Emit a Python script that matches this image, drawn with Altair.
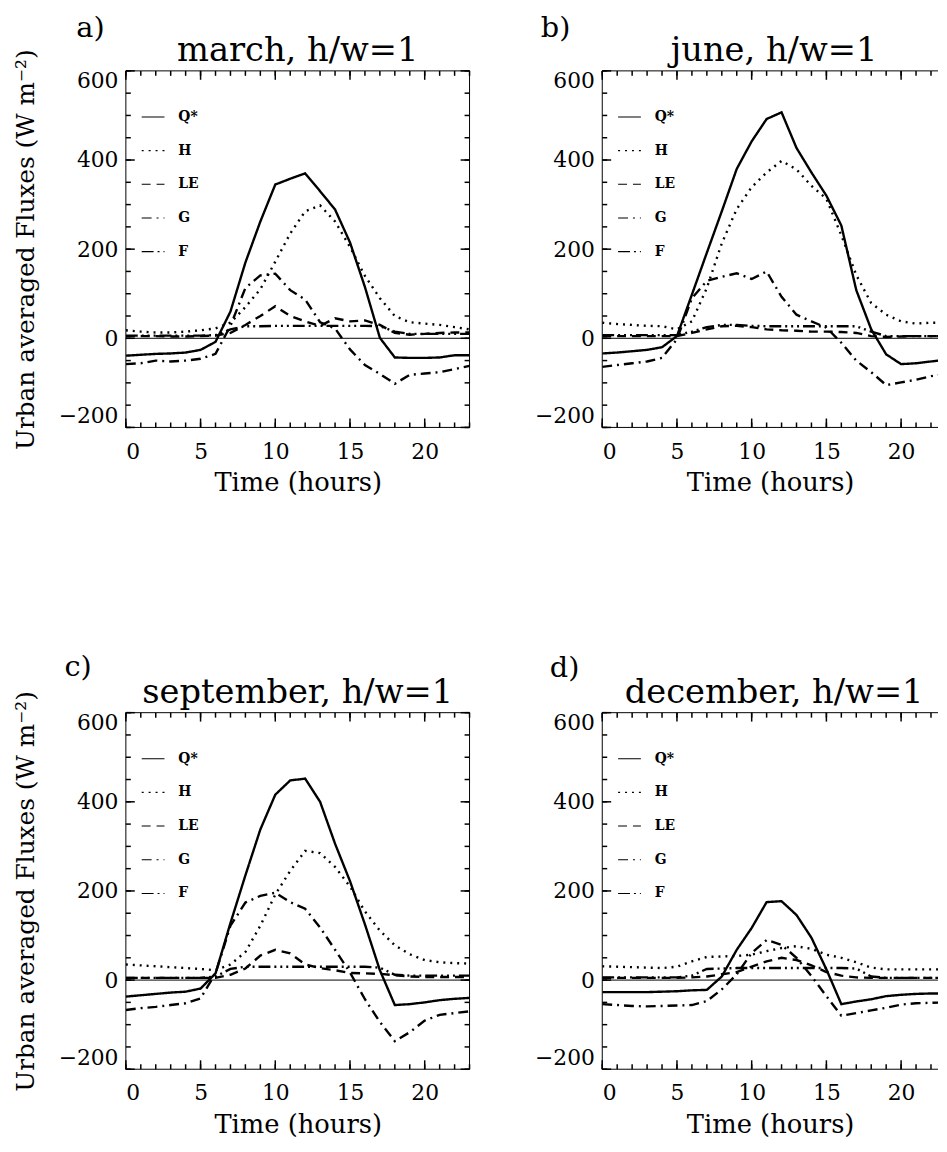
import altair as alt
import pandas as pd

# ---------------- data ----------------
hours = list(range(24))
fluxes = ["Q*", "H", "LE", "G", "F"]
panel_letters = ["a)", "b)", "c)", "d)"]
panel_titles = ["march, h/w=1", "june, h/w=1", "september, h/w=1", "december, h/w=1"]

march_Q = [-39, -37, -35, -34, -32, -26, -8, 60, 170, 262, 345, 358, 370, 330, 289, 215, 115, 1, -43, -44, -44, -43, -38, -38]
march_H = [18, 15, 13, 13, 15, 18, 22, 35, 70, 110, 172, 235, 285, 298, 262, 205, 140, 90, 50, 36, 33, 30, 25, 20]
march_LE = [5, 5, 5, 4, 4, 5, 6, 12, 30, 50, 72, 50, 38, 28, 45, 38, 40, 30, 12, 8, 10, 12, 13, 13]
march_G = [-58, -56, -50, -52, -50, -46, -35, 28, 113, 141, 145, 108, 87, 36, 22, -25, -60, -80, -102, -82, -79, -76, -69, -62]
march_F = [6, 6, 6, 6, 6, 6, 7, 20, 27, 27, 28, 28, 28, 28, 28, 28, 28, 27, 15, 10, 10, 10, 10, 10]

june_Q = [-34, -32, -29, -26, -20, 5, 98, 192, 285, 380, 442, 492, 507, 427, 372, 320, 253, 108, 20, -36, -58, -56, -52, -48]
june_H = [35, 32, 30, 28, 27, 20, 38, 113, 213, 290, 339, 372, 398, 379, 342, 313, 231, 142, 79, 53, 38, 33, 35, 35]
june_LE = [5, 5, 5, 5, 5, 5, 12, 20, 27, 28, 25, 20, 18, 17, 15, 15, 14, 12, 5, 3, 4, 5, 5, 5]
june_G = [-64, -60, -56, -52, -44, -2, 90, 129, 138, 146, 133, 150, 93, 53, 38, 24, -10, -50, -76, -105, -99, -93, -85, -80]
june_F = [7, 7, 7, 7, 7, 7, 15, 25, 30, 30, 28, 27, 27, 27, 27, 27, 27, 27, 15, 5, 5, 5, 5, 5]

sept_Q = [-37, -34, -31, -28, -26, -19, 15, 128, 235, 338, 416, 448, 452, 400, 306, 222, 125, 22, -56, -54, -50, -45, -42, -40]
sept_H = [35, 33, 31, 29, 27, 25, 22, 35, 63, 122, 192, 245, 290, 285, 254, 210, 154, 111, 78, 58, 45, 40, 38, 37]
sept_LE = [5, 5, 5, 5, 5, 5, 5, 12, 26, 55, 68, 60, 35, 27, 22, 16, 15, 14, 11, 8, 7, 7, 7, 7]
sept_G = [-67, -63, -60, -56, -52, -41, 15, 122, 174, 189, 196, 175, 160, 118, 68, 17, -43, -94, -137, -117, -91, -78, -74, -70]
sept_F = [5, 5, 5, 5, 5, 5, 8, 25, 30, 30, 30, 30, 30, 30, 30, 30, 30, 28, 12, 10, 10, 10, 10, 10]

dec_Q = [-27, -27, -27, -27, -26, -25, -23, -22, 8, 68, 117, 175, 177, 146, 95, 24, -54, -48, -43, -36, -33, -31, -30, -30]
dec_H = [31, 30, 29, 28, 27, 30, 42, 52, 53, 54, 57, 65, 72, 76, 70, 57, 50, 40, 28, 24, 24, 24, 24, 24]
dec_LE = [5, 5, 5, 5, 5, 5, 6, 8, 13, 18, 30, 42, 50, 45, 33, 18, 10, 6, 5, 5, 5, 5, 5, 5]
dec_G = [-54, -56, -58, -59, -58, -57, -56, -47, -21, 13, 61, 90, 79, 50, 9, -36, -80, -74, -68, -62, -55, -52, -51, -50]
dec_F = [6, 6, 6, 6, 6, 6, 10, 25, 26, 27, 27, 27, 27, 27, 27, 27, 27, 26, 8, 5, 5, 5, 5, 5]

panel_series = [
    [march_Q, march_H, march_LE, march_G, march_F],
    [june_Q, june_H, june_LE, june_G, june_F],
    [sept_Q, sept_H, sept_LE, sept_G, sept_F],
    [dec_Q, dec_H, dec_LE, dec_G, dec_F],
]

x_major = [0, 5, 10, 15, 20]
x_minor = list(range(24))
y_major = [-200, 0, 200, 400, 600]
y_minor = list(range(-200, 601, 50))
zero_line = [0]

# ---------------- styling ----------------
FONT = "DejaVu Serif"
H = 360
W_LEFT = 347
W_RIGHT = 339
X_MAX = 23
Y_MIN, Y_MAX = -200, 600
dash_range = [[1, 0], [2, 5], [9, 6], [10, 5, 2, 5], [12, 4, 2, 4, 2, 4, 2, 4]]
MAJOR = 9   # tick lengths in pixels
MINOR = 5


def panel(idx, left_col):
    W = W_LEFT if left_col else W_RIGHT
    xmax = X_MAX * W / W_LEFT
    xs = alt.Scale(domain=[0, xmax], nice=False, zero=False)
    ys = alt.Scale(domain=[Y_MIN, Y_MAX], nice=False, zero=False)
    px_per_hour = W / xmax
    px_per_unit = H / (Y_MAX - Y_MIN)

    y_axis = alt.Axis(values=y_major, labelFlush=True, labelPadding=8,
                      title="Urban averaged Fluxes (W m⁻²)" if left_col else None,
                      titlePadding=20)
    x_axis = alt.Axis(values=x_major, title="Time (hours)", labelPadding=14, titlePadding=8)
    X = alt.X("hour:Q", scale=xs, axis=x_axis)
    Y = alt.Y("W:Q", scale=ys, axis=y_axis)

    rows = []
    for f, vals in zip(fluxes, panel_series[idx]):
        for h, v in zip(hours, vals):
            rows.append({"hour": h, "W": v, "flux": f})
    df = pd.DataFrame(rows)

    lines = alt.Chart(df).mark_line(color="black", strokeWidth=2.4, clip=True, strokeCap="butt").encode(
        x=X, y=Y,
        strokeDash=alt.StrokeDash(
            "flux:N", sort=fluxes,
            scale=alt.Scale(domain=fluxes, range=dash_range),
            legend=alt.Legend(orient="none", legendX=15, legendY=34, title=None,
                              symbolType="stroke", symbolSize=529, symbolStrokeWidth=1.1,
                              symbolStrokeColor="black", labelFont=FONT, labelFontSize=14,
                              labelFontWeight="bold", labelColor="black", labelOffset=13,
                              rowPadding=14, padding=0),
        ),
    )

    zero = alt.Chart(pd.DataFrame({"W": zero_line})).mark_rule(color="black", strokeWidth=1).encode(y=Y)

    # inward tick segments, all positions through the scales
    trows = []
    for vals, L in [(x_major, MAJOR), (x_minor, MINOR)]:
        dy = L / px_per_unit
        for t in vals:
            if t <= xmax:
                trows.append({"hour": t, "hour2": t, "W": Y_MIN, "W2": Y_MIN + dy})
                trows.append({"hour": t, "hour2": t, "W": Y_MAX, "W2": Y_MAX - dy})
    for vals, L in [(y_major, MAJOR), (y_minor, MINOR)]:
        dx = L / px_per_hour
        for v in vals:
            trows.append({"hour": 0, "hour2": dx, "W": v, "W2": v})
            if left_col:
                trows.append({"hour": xmax, "hour2": xmax - dx, "W": v, "W2": v})
    ticks = alt.Chart(pd.DataFrame(trows)).mark_rule(color="black", strokeWidth=1.5).encode(
        x=X, x2=alt.X2("hour2"), y=Y, y2=alt.Y2("W2")
    )

    layers = [lines, zero, ticks]

    one = pd.DataFrame({"k": [0]})
    # frame
    layers.append(alt.Chart(one).mark_rule(color="black", strokeWidth=1).encode(
        x=alt.value(0), x2=alt.value(W), y=alt.value(0)))
    layers.append(alt.Chart(one).mark_rule(color="black", strokeWidth=1).encode(
        x=alt.value(0), x2=alt.value(W), y=alt.value(H)))
    layers.append(alt.Chart(one).mark_rule(color="black", strokeWidth=1).encode(
        x=alt.value(0), y=alt.value(0), y2=alt.value(H)))
    if left_col:
        layers.append(alt.Chart(one).mark_rule(color="black", strokeWidth=1).encode(
            x=alt.value(W), y=alt.value(0), y2=alt.value(H)))

    # panel letter
    letter_dx = [-50, -62, -62, -53][idx]
    letter_dy = [-34, -34, -37, -36][idx]
    layers.append(
        alt.Chart(pd.DataFrame({"t": [panel_letters[idx]]})).mark_text(
            font=FONT, fontSize=29, align="left", baseline="alphabetic", color="black"
        ).encode(text="t:N", x=alt.value(letter_dx), y=alt.value(letter_dy))
    )
    # panel title
    layers.append(
        alt.Chart(pd.DataFrame({"t": [panel_titles[idx]]})).mark_text(
            font=FONT, fontSize=34, align="center", baseline="alphabetic", color="black"
        ).encode(text="t:N", x=alt.value(W_LEFT / 2), y=alt.value(-10))
    )

    return alt.layer(*layers).properties(width=W, height=H)


pa = panel(0, True)
pb = panel(1, False)
pc = panel(2, True)
pd_ = panel(3, False)

chart = alt.concat(
    pa, pb, pc, pd_, columns=2,
    spacing=alt.RowColnumber(row=288, column=134), bounds="flush",
).resolve_scale(
    x="independent", strokeDash="independent"
).resolve_legend(strokeDash="independent").properties(
    padding={"left": 5, "top": 1, "right": 0, "bottom": 0},
    background="white",
).configure_view(stroke=None).configure_axis(
    labelFont=FONT, labelFontSize=22, labelColor="black",
    titleFont=FONT, titleFontSize=25, titleFontWeight="normal", titleColor="black",
    grid=False, ticks=False, domain=False,
).configure_axisX(titleFontSize=26)

chart.save("out.html", embed_options={"renderer": "svg", "actions": False})
